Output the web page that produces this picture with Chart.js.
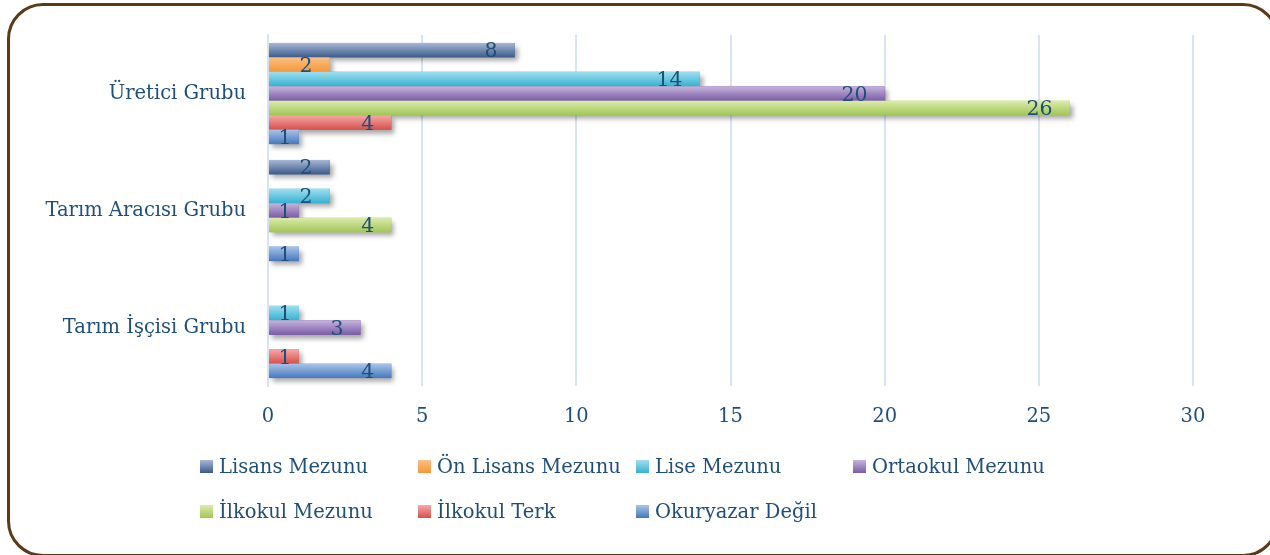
<!DOCTYPE html>
<html>
<head>
<meta charset="utf-8">
<script src="https://cdn.jsdelivr.net/npm/chart.js@4.4.1/dist/chart.umd.min.js"></script>
<style>
  html, body { margin: 0; padding: 0; background: #fff; }
  #wrap { position: relative; width: 1270px; height: 555px; overflow: hidden; }
  #frame {
    position: absolute; left: 7px; top: 3px; width: 1272px; height: 554px;
    border: 3px solid #5b3a19; border-radius: 36px; box-sizing: border-box;
  }
  #chartBox { position: absolute; left: 0; top: 0; width: 1270px; height: 555px; }
  #legend {
    position: absolute; left: 200px; top: 452px;
    display: grid; grid-template-columns: 218px 218px 217px 218px; row-gap: 17px;
    font-family: "DejaVu Serif", serif; font-size: 19.5px; color: #1f4e79;
  }
  #legend .item { display: flex; align-items: center; height: 28px; white-space: nowrap; }
  #legend .box { width: 13px; height: 13px; margin-right: 6px; flex: none; }
</style>
</head>
<body>
<div id="wrap">
  <div id="frame"></div>
  <div id="chartBox"><canvas id="eduChart" width="1270" height="555"></canvas></div>
  <div id="legend"></div>
</div>
<script>
// Categories (groups) and series
const groups = ['Üretici Grubu', 'Tarım Aracısı Grubu', 'Tarım İşçisi Grubu'];
const seriesNames = ['Lisans Mezunu', 'Ön Lisans Mezunu', 'Lise Mezunu', 'Ortaokul Mezunu',
                     'İlkokul Mezunu', 'İlkokul Terk', 'Okuryazar Değil'];

const lisans     = [8, 2, null];
const onLisans   = [2, null, null];
const lise       = [14, 2, 1];
const ortaokul   = [20, 1, 3];
const ilkokul    = [26, 4, null];
const ilkokulTerk = [4, null, 1];
const okuryazar  = [1, 1, 4];

const xTicks = [0, 5, 10, 15, 20, 25, 30];

// gradient colours for each series (top, bottom)
const barColors = [
  ['#a8b8d6', '#3b5b8c'],
  ['#fbc085', '#f69638'],
  ['#a0def0', '#35b2d1'],
  ['#c6b4dc', '#7a5ba6'],
  ['#dcebac', '#a2c656'],
  ['#f6aaa8', '#d6504b'],
  ['#a9c4e9', '#4678bd']
];

const textColor = '#1f4e79';
const gridColor = '#d6e4f4';
const fontFamily = '"DejaVu Serif", serif';

const allValues = [lisans, onLisans, lise, ortaokul, ilkokul, ilkokulTerk, okuryazar];

const datasets = allValues.map((vals, i) => ({
  label: seriesNames[i],
  data: vals,
  backgroundColor: barColors[i][1],
  borderWidth: 0,
  categoryPercentage: 0.865,
  barPercentage: 1.0
}));

// draw shadows under the bars, then repaint each bar with a vertical gradient and its label
const barStyle = {
  id: 'barStyle',
  beforeDatasetsDraw(chart) {
    const ctx = chart.ctx;
    ctx.save();
    ctx.shadowColor = 'rgba(0,0,0,0.35)';
    ctx.shadowBlur = 5;
    ctx.shadowOffsetX = 3;
    ctx.shadowOffsetY = 4;
  },
  afterDatasetsDraw(chart) {
    const ctx = chart.ctx;
    ctx.restore();
    ctx.save();
    chart.data.datasets.forEach((ds, i) => {
      const meta = chart.getDatasetMeta(i);
      meta.data.forEach((bar, j) => {
        if (ds.data[j] == null) return;
        const top = bar.y - bar.height / 2;
        const g = ctx.createLinearGradient(0, top, 0, top + bar.height);
        g.addColorStop(0, barColors[i][0]);
        g.addColorStop(1, barColors[i][1]);
        ctx.fillStyle = g;
        ctx.fillRect(bar.base, top, bar.x - bar.base, bar.height);
      });
    });
    // value labels, placed inside the bar end
    ctx.font = '20.5px ' + fontFamily;
    ctx.fillStyle = textColor;
    ctx.textBaseline = 'middle';
    ctx.textAlign = 'center';
    chart.data.datasets.forEach((ds, i) => {
      const meta = chart.getDatasetMeta(i);
      meta.data.forEach((bar, j) => {
        const v = ds.data[j];
        if (v == null) return;
        const txt = String(v);
        const w = ctx.measureText(txt).width;
        const cx = Math.max(bar.x - 17 - w / 2, (bar.base + bar.x) / 2 + 1);
        ctx.fillText(txt, cx, bar.y + 2);
      });
    });
    ctx.restore();
  }
};

const ctx = document.getElementById('eduChart').getContext('2d');

const eduChart = new Chart(ctx, {
  type: 'bar',
  data: { labels: groups, datasets: datasets },
  plugins: [barStyle],
  options: {
    indexAxis: 'y',
    responsive: false,
    animation: false,
    layout: { padding: { top: 35, right: 77, bottom: 109, left: 0 } },
    scales: {
      x: {
        min: 0,
        max: 30,
        afterBuildTicks: axis => { axis.ticks = xTicks.map(v => ({ value: v })); },
        afterFit: axis => { axis.height = 60; },
        ticks: {
          padding: 19,
          color: textColor,
          font: { family: fontFamily, size: 19.5 }
        },
        grid: { color: gridColor, lineWidth: 2, drawTicks: false },
        border: { display: false }
      },
      y: {
        afterFit: axis => { axis.width = 268; },
        ticks: {
          padding: 22,
          color: textColor,
          font: { family: fontFamily, size: 19.5 }
        },
        grid: { display: false, drawTicks: false },
        border: { display: true, color: gridColor, width: 2 }
      }
    },
    plugins: {
      legend: { display: false },
      tooltip: { enabled: false }
    }
  }
});

// HTML legend, built from the series names
const legendEl = document.getElementById('legend');
seriesNames.forEach((name, i) => {
  const item = document.createElement('div');
  item.className = 'item';
  const box = document.createElement('span');
  box.className = 'box';
  box.style.background = 'linear-gradient(' + barColors[i][0] + ',' + barColors[i][1] + ')';
  const label = document.createElement('span');
  label.textContent = name;
  item.appendChild(box);
  item.appendChild(label);
  legendEl.appendChild(item);
});
</script>
</body>
</html>
